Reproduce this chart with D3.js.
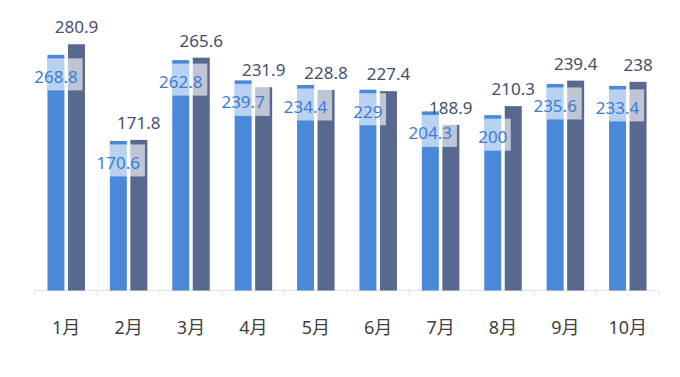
<!DOCTYPE html>
<html>
<head>
    <script src="https://cdnjs.cloudflare.com/ajax/libs/d3/7.8.5/d3.min.js"></script>
    <style>
        body { margin: 0; background: #fff; }
        text { font-family: "Noto Sans", "Noto Sans CJK SC", sans-serif; }
        .axis path, .axis line { stroke: #e0e0e0; }
    </style>
</head>
<body>
    <div id="chart"></div>
    <script>
        const width = 680, height = 377;

        const months = ["1月", "2月", "3月", "4月", "5月", "6月", "7月", "8月", "9月", "10月"];
        const seriesA = [268.8, 170.6, 262.8, 239.7, 234.4, 229, 204.3, 200, 235.6, 233.4];
        const seriesB = [280.9, 171.8, 265.6, 231.9, 228.8, 227.4, 188.9, 210.3, 239.4, 238];

        const margin = { left: 35, right: 21, top: 27.5, bottom: 86.5 };
        const svg = d3.select("#chart").append("svg")
            .attr("width", width).attr("height", height);

        const x = d3.scaleBand().domain(months)
            .range([margin.left, width - margin.right]).padding(0);
        const y = d3.scaleLinear().domain([0, 300])
            .range([height - margin.bottom, margin.top]);

        const barW = 17, gap = 3.5;
        const groupW = barW * 2 + gap;
        const xa = m => x(m) + (x.bandwidth() - groupW) / 2;
        const xb = m => xa(m) + barW + gap;

        // axis
        const axis = svg.append("g")
            .attr("class", "axis")
            .attr("transform", `translate(0,${y(0)})`)
            .call(d3.axisBottom(x).tickSize(0).tickPadding(0));
        axis.selectAll(".tick text").remove();
        axis.select(".domain").attr("d", `M${margin.left},0H${width - margin.right}`);
        // boundary ticks
        const bounds = months.map(m => x(m)).concat([x(months[months.length - 1]) + x.bandwidth()]);
        axis.selectAll(".bound").data(bounds).enter().append("line")
            .attr("x1", d => d).attr("x2", d => d)
            .attr("y1", 0).attr("y2", 5)
            .attr("stroke", "#e0e0e0");

        svg.append("g").selectAll("text").data(months).enter().append("text")
            .attr("x", d => x(d) + x.bandwidth() / 2)
            .attr("y", y(0) + 43)
            .attr("text-anchor", "middle")
            .attr("font-size", 18)
            .attr("fill", "#404040")
            .text(d => d);

        // bars
        svg.append("g").selectAll("rect").data(seriesA).enter().append("rect")
            .attr("x", (d, i) => xa(months[i]))
            .attr("y", d => y(d))
            .attr("width", barW)
            .attr("height", d => y(0) - y(d))
            .attr("fill", "#4a89d9");

        svg.append("g").selectAll("rect").data(seriesB).enter().append("rect")
            .attr("x", (d, i) => xb(months[i]))
            .attr("y", d => y(d))
            .attr("width", barW)
            .attr("height", d => y(0) - y(d))
            .attr("fill", "#58688f");

        // labels of series B
        svg.append("g").selectAll("text").data(seriesB).enter().append("text")
            .attr("x", (d, i) => xb(months[i]) + barW / 2)
            .attr("y", d => y(d) - 11)
            .attr("text-anchor", "middle")
            .attr("font-size", 17)
            .attr("fill", "#46506e")
            .text(d => d);

        // labels of series A, with light box
        const la = svg.append("g").selectAll("g").data(seriesA).enter().append("g");
        la.append("rect").attr("class", "lbox");
        la.append("text")
            .attr("x", (d, i) => xa(months[i]) + barW / 2)
            .attr("y", d => y(d) + 28)
            .attr("text-anchor", "middle")
            .attr("font-size", 17)
            .attr("fill", "#3b7cd3")
            .text(d => d);
        la.each(function (d, i) {
            const tw = d3.select(this).select("text").node().getComputedTextLength();
            d3.select(this).select("rect")
                .attr("x", xa(months[i]))
                .attr("y", y(d) + 3.5)
                .attr("width", tw * 0.6 + 9)
                .attr("height", 32)
                .attr("fill", "#fff")
                .attr("fill-opacity", 0.62);
        });
    </script>
</body>
</html>
